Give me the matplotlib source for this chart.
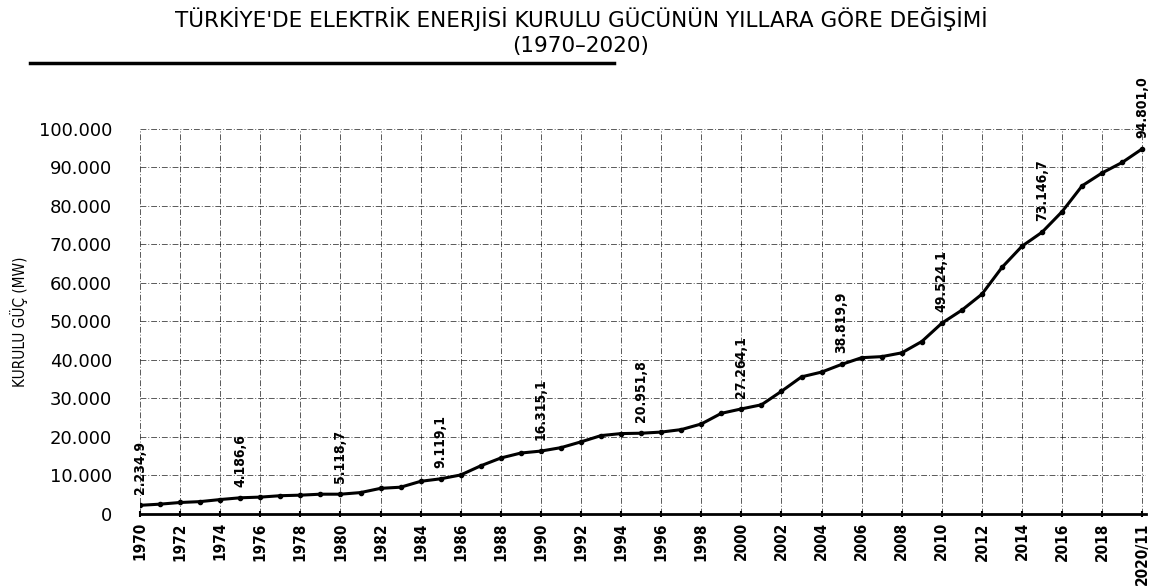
import matplotlib
matplotlib.use("Agg")
import matplotlib.pyplot as plt

years = list(range(1970, 2021))
capacity = [2234.9, 2534.0, 2964.0, 3193.0, 3732.0, 4186.6, 4364.0, 4727.0, 4868.0, 5119.0,
            5118.7, 5537.0, 6639.0, 6935.0, 8462.0, 9119.1, 10115.0, 12495.0, 14521.0, 15808.0,
            16315.1, 17209.0, 18714.0, 20337.0, 20859.0, 20951.8, 21249.0, 21891.0, 23354.0, 26119.0,
            27264.1, 28332.0, 31846.0, 35587.0, 36824.0, 38819.9, 40565.0, 40836.0, 41817.0, 44761.0,
            49524.1, 52911.0, 57059.0, 64008.0, 69520.0, 73146.7, 78497.0, 85200.0, 88551.0, 91267.0,
            94801.0]
label_years = [1970, 1975, 1980, 1985, 1990, 1995, 2000, 2005, 2010, 2015, 2020]
label_texts = ["2.234,9", "4.186,6", "5.118,7", "9.119,1", "16.315,1", "20.951,8",
               "27.264,1", "38.819,9", "49.524,1", "73.146,7", "94.801,0"]
xtick_years = list(range(1970, 2021, 2))
xtick_labels = [str(y) for y in range(1970, 2019, 2)] + ["2020/11"]
ytick_vals = list(range(0, 100001, 10000))
ytick_labels = ["0"] + ["{:,}".format(v).replace(",", ".") for v in ytick_vals[1:]]

narrow = dict(fontfamily="DejaVu Sans", fontstretch="condensed")

fig = plt.figure(figsize=(11.62, 5.88), dpi=100)
ax = fig.add_axes([0.1205, 0.126, 0.866, 0.655])

ax.plot(years, capacity, color="black", lw=2.2, marker="o", ms=3, zorder=3)

for yr, txt in zip(label_years, label_texts):
    v = capacity[years.index(yr)]
    ax.annotate(txt, (yr, v), xytext=(0, 8), textcoords="offset points",
                rotation=90, ha="center", va="bottom", fontsize=10,
                fontweight="bold", annotation_clip=False, **narrow)

ax.set_xlim(1970, 2020.2)
ax.set_ylim(0, 100000)
ax.set_xticks(xtick_years)
ax.set_xticklabels(xtick_labels, rotation=90, fontsize=11, fontweight="bold", **narrow)
ax.set_yticks(ytick_vals)
ax.set_yticklabels(ytick_labels, fontsize=13, fontfamily="DejaVu Sans")
ax.tick_params(axis="y", length=0, pad=20)
ax.tick_params(axis="x", length=5, width=1.5, direction="inout")

ax.grid(True, color="black", lw=0.7, ls=(0, (6, 2, 1, 2)), alpha=0.65)
for s in ["top", "right", "left"]:
    ax.spines[s].set_visible(False)
ax.spines["bottom"].set_linewidth(2)

ax.set_ylabel("KURULU GÜÇ (MW)", fontsize=11, labelpad=8, **narrow)

fig.text(0.5, 0.968, "TÜRKİYE'DE ELEKTRİK ENERJİSİ KURULU GÜCÜNÜN YILLARA GÖRE DEĞİŞİMİ",
         ha="center", va="center", fontsize=15.5, fontfamily="DejaVu Sans")
fig.text(0.5, 0.922, "(1970–2020)", ha="center", va="center", fontsize=15.5,
         fontfamily="DejaVu Sans")
fig.add_artist(plt.Line2D([0.026, 0.528], [0.893, 0.893], color="black", lw=2.5))

fig.savefig("out.png", dpi=100)
